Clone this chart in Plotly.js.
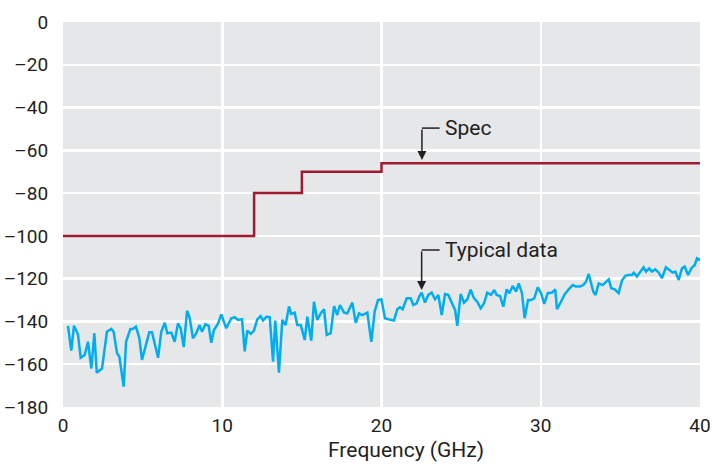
<!DOCTYPE html>
<html>
<head>
<meta charset="utf-8">
<script src="https://cdn.plot.ly/plotly-3.0.1.min.js"></script>
<style>html,body{margin:0;padding:0;background:#fff;}#chart{width:712px;height:465px;}</style>
</head>
<body>
<div id="chart"></div>
<script>
// Spec limit (GHz, dB)
const specFreq = [0, 12, 15, 20, 40];
const specLevel = [-100, -80, -70, -66, -66];

// Typical measured data (GHz, dB)
const dataFreq = [0.31,0.52,0.69,0.94,1.11,1.36,1.57,1.78,1.97,2.12,2.45,2.76,3.03,3.18,3.39,3.54,3.81,3.96,4.23,4.38,4.58,4.79,4.96,5.42,5.59,5.97,6.17,6.39,6.55,
6.80,7.01,7.22,7.39,7.58,7.79,7.96,8.16,8.37,8.58,8.73,8.94,9.15,9.31,9.48,9.73,9.94,10.25,10.57,10.78,10.99,11.24,11.41,11.57,11.79,11.99,12.20,12.41,12.56,12.77,12.98,13.19,13.33,
13.56,13.77,13.98,14.19,14.33,14.55,14.71,14.93,15.18,15.34,15.59,15.76,15.97,16.18,16.39,16.56,16.81,17.02,17.22,17.39,17.65,17.85,18.17,18.38,18.59,18.79,19.11,19.36,19.57,19.78,19.99,
20.08,20.22,20.43,20.64,20.78,20.99,21.16,21.33,21.58,21.83,22.00,22.21,22.37,22.52,22.73,22.94,23.15,23.36,23.57,23.78,23.99,24.19,24.41,24.62,24.76,24.97,25.18,25.39,25.60,25.81,26.01,26.23,26.44,26.64,
26.88,27.08,27.23,27.44,27.65,27.86,28.03,28.24,28.45,28.62,28.82,28.99,29.20,29.39,29.59,29.81,30.02,30.22,30.44,30.71,30.91,31.02,31.27,31.48,31.75,32.01,32.21,32.46,32.67,32.84,33.01,33.16,33.30,
33.44,33.64,33.89,34.10,34.27,34.43,34.64,34.89,35.10,35.31,35.52,35.73,35.84,36.04,36.25,36.46,36.61,36.81,36.98,37.19,37.41,37.61,37.86,38.07,38.29,38.45,38.66,38.87,39.04,39.25,39.45,39.67,39.81,40.0];
const dataLevel = [-142,-153.6,-142,-146,-157,-155.7,-149.5,-162,-145.5,-164,-162,-144.8,-143.5,-144.8,-154.8,-156.5,-170.5,-149.5,-143.5,-143.5,-142.4,-147.7,-158,-145,-145,-157,-144.8,-140.6,-145.5,
-145.2,-149.5,-140.9,-143.2,-152,-135,-138.5,-147.9,-145.5,-141.7,-144.8,-141.3,-142.1,-150,-144,-141,-136.7,-143.2,-138.5,-138,-139.3,-139,-154,-144.3,-145.8,-144.3,-139,-137.5,-139.6,-137.8,-138,-158.8,-139.6,
-164,-139.3,-141.7,-133,-136.5,-135.9,-141.7,-141.7,-148.7,-137.8,-149,-130.8,-139.3,-136.2,-134.3,-146.3,-145.5,-132.8,-137,-132.3,-135.9,-136.2,-131.2,-140.6,-136.2,-137,-135.9,-149.5,-135.4,-130,-129.6,
-133.9,-138.5,-139,-139.3,-139.6,-134.3,-133.4,-134.3,-129.2,-129.2,-132.3,-131.5,-128.4,-126.5,-131.2,-127.6,-126.5,-129.6,-127.6,-137,-127.2,-127.6,-131.5,-134.6,-142.1,-127.2,-131.2,-129.6,-125.2,-129.2,-130.8,-133.9,-131.5,-126.5,
-127.6,-125.3,-127.6,-128.1,-133.1,-125,-126.8,-123.4,-126.1,-122.2,-126.8,-138.5,-130,-130,-129.2,-124.1,-126.8,-131.8,-126.8,-126.5,-125,-134.3,-130.8,-127.6,-125,-123,-123.7,-123.7,-123,-121.4,-117.8,-122.5,-126.1,
-127.6,-122.2,-123,-121.4,-120.3,-124.5,-125,-126.8,-120.9,-118.7,-118.3,-118.3,-117.2,-119,-116.7,-114.7,-116.7,-115.2,-116.7,-115.6,-117.2,-119.8,-114.7,-116,-117.2,-116.7,-120.6,-115.2,-114.4,-118.3,-115.2,-113.6,-110.5,-111.3];

const xTicks = [0, 10, 20, 30, 40];
const yTicks = [0, -20, -40, -60, -80, -100, -120, -140, -160, -180];
const xTitle = 'Frequency (GHz)';
const specLabel = 'Spec';
const dataLabel = 'Typical data';

const FONT = '"Liberation Sans Narrow", "Roboto", "DejaVu Sans Condensed", sans-serif';
const TXT = '#231f20';

const traces = [
  {x: specFreq, y: specLevel, mode: 'lines', line: {shape: 'hv', color: '#9e1b32', width: 2.5}, hoverinfo: 'skip'},
  {x: dataFreq, y: dataLevel, mode: 'lines', line: {color: '#00aeef', width: 2.5}, hoverinfo: 'skip'}
];

// callout positions
const specArrowX = 22.54, specTop = -49.6, specTip = -64.5;
const dataArrowX = 22.52, dataTop = -106.6, dataTip = -125.3;
const elbowEnd = 23.65, textX = 23.85;

const layout = {
  width: 712, height: 465,
  margin: {l: 63, r: 12, t: 22, b: 58},
  paper_bgcolor: '#ffffff',
  plot_bgcolor: '#e6e7e9',
  showlegend: false,
  font: {family: FONT, size: 19, color: TXT},
  xaxis: {
    range: [0, 40], tickvals: xTicks, ticktext: xTicks.map(String),
    showgrid: true, gridcolor: '#ffffff', gridwidth: 2.5, zeroline: false, showline: false,
    ticks: 'outside', ticklen: 1, tickcolor: 'rgba(0,0,0,0)',
    tickfont: {family: FONT, size: 19, color: TXT}
  },
  yaxis: {
    range: [-180, 0], tickvals: yTicks, ticktext: yTicks.map(v => v === 0 ? '0' : '\u2013' + Math.abs(v)),
    showgrid: true, gridcolor: '#ffffff', gridwidth: 2.5, zeroline: false, showline: false,
    ticks: 'outside', ticklen: 10, tickcolor: 'rgba(0,0,0,0)',
    tickfont: {family: FONT, size: 19, color: TXT}
  },
  shapes: [
    {type: 'line', xref: 'x', yref: 'y', x0: specArrowX, x1: elbowEnd, y0: specTop, y1: specTop, line: {color: TXT, width: 1.5}},
    {type: 'line', xref: 'x', yref: 'y', x0: dataArrowX, x1: elbowEnd, y0: dataTop, y1: dataTop, line: {color: TXT, width: 1.5}}
  ],
  annotations: [
    {x: specArrowX, y: specTip, ax: specArrowX, ay: specTop, axref: 'x', ayref: 'y', xref: 'x', yref: 'y', text: '', showarrow: true, arrowhead: 2, arrowsize: 1.2, arrowwidth: 1.5, arrowcolor: TXT},
    {x: dataArrowX, y: dataTip, ax: dataArrowX, ay: dataTop, axref: 'x', ayref: 'y', xref: 'x', yref: 'y', text: '', showarrow: true, arrowhead: 2, arrowsize: 1.2, arrowwidth: 1.5, arrowcolor: TXT},
    {x: textX, y: specTop, xref: 'x', yref: 'y', text: specLabel, showarrow: false, xanchor: 'left', yanchor: 'middle', font: {family: FONT, size: 21, color: TXT}},
    {x: textX, y: dataTop, xref: 'x', yref: 'y', text: dataLabel, showarrow: false, xanchor: 'left', yanchor: 'middle', font: {family: FONT, size: 21, color: TXT}},
    {x: 0.5385, y: -0.112, xref: 'paper', yref: 'paper', text: xTitle, showarrow: false, xanchor: 'center', yanchor: 'middle', font: {family: FONT, size: 21, color: TXT}}
  ]
};

Plotly.newPlot('chart', traces, layout, {displayModeBar: false, staticPlot: true});
</script>
</body>
</html>
